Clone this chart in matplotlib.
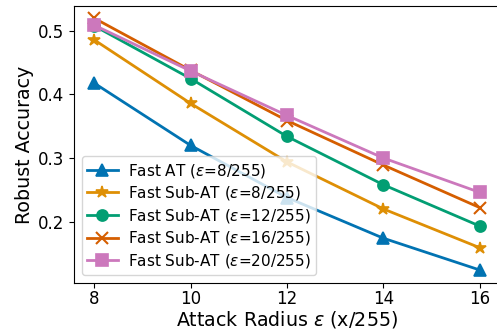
import matplotlib
matplotlib.use("Agg")
import matplotlib.pyplot as plt

eps = [8, 10, 12, 14, 16]
fast_at_8 = [0.418, 0.320, 0.238, 0.174, 0.124]
sub_at_8 = [0.486, 0.386, 0.294, 0.220, 0.159]
sub_at_12 = [0.508, 0.425, 0.334, 0.258, 0.193]
sub_at_16 = [0.520, 0.438, 0.359, 0.289, 0.222]
sub_at_20 = [0.509, 0.437, 0.367, 0.300, 0.246]

labels = [r"Fast AT ($\epsilon$=8/255)",
          r"Fast Sub-AT ($\epsilon$=8/255)",
          r"Fast Sub-AT ($\epsilon$=12/255)",
          r"Fast Sub-AT ($\epsilon$=16/255)",
          r"Fast Sub-AT ($\epsilon$=20/255)"]
series = [fast_at_8, sub_at_8, sub_at_12, sub_at_16, sub_at_20]
colors = ["#0173b2", "#de8f05", "#029e73", "#d55e00", "#cc78bc"]
markers = ["^", "*", "o", "x", "s"]
msizes = [8.5, 9, 8, 8.5, 8]

fig = plt.figure(figsize=(4.97, 3.33), dpi=100)
ax = fig.add_axes([74/497, 1-283/333, (500-74)/497, (283-6)/333])
for y, lab, c, m, ms in zip(series, labels, colors, markers, msizes):
    ax.plot(eps, y, color=c, marker=m, markersize=ms, linewidth=2, label=lab,
            markeredgewidth=1.2 if m != "x" else 1.5)

ax.set_xlim(7.585, 16.415)
ax.set_ylim(0.1037, 0.539)
ax.set_xticks(eps)
ax.set_yticks([0.2, 0.3, 0.4, 0.5])
ax.tick_params(labelsize=12)
ax.tick_params(axis="x", pad=1.5)
ax.set_xlabel(r"Attack Radius $\epsilon$ (x/255)", fontsize=13.7, labelpad=0.5)
ax.set_ylabel("Robust Accuracy", fontsize=13.7, labelpad=3)
ax.legend(loc="lower left", fontsize=11, borderaxespad=0.5, labelspacing=0.3,
          borderpad=0.35, handlelength=2.0, handletextpad=0.7)
fig.savefig("out.png", dpi=100)
